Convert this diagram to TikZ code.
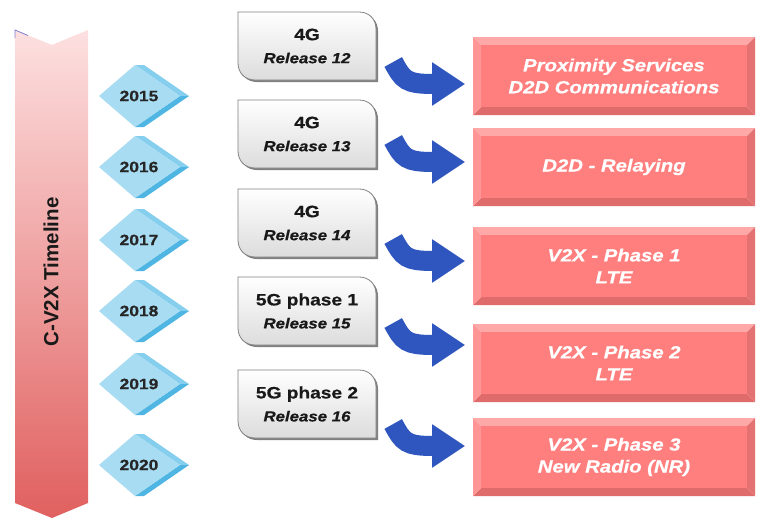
\documentclass[tikz,border=0pt]{standalone}
\usepackage{fontspec}
\setmainfont{Liberation Sans}[FakeStretch=1.16]
\newfontfamily\heavyfont{Liberation Sans}[FakeStretch=1.16, FakeBold=0.6]
\newfontfamily\tlfont{Liberation Sans}
\usetikzlibrary{arrows.meta,calc}
\definecolor{chevtop}{HTML}{FDE0E0}
\definecolor{chevbot}{HTML}{E0605F}
\definecolor{diaFace}{HTML}{A8DCF2}
\definecolor{diaTop}{HTML}{86CEEE}
\definecolor{diaBot}{HTML}{4FB5E2}
\definecolor{greyline}{HTML}{808080}
\definecolor{greybot}{HTML}{DCDCDC}
\definecolor{rface}{HTML}{FF7F7F}
\definecolor{rtop}{HTML}{FFA8A8}
\definecolor{rleft}{HTML}{FF9595}
\definecolor{rright}{HTML}{E47272}
\definecolor{rbot}{HTML}{DF6B6B}
\definecolor{arrblue}{HTML}{2F56BE}
\definecolor{edgeblue}{HTML}{7F7FD6}
\newcommand\grshape[1]{(238,#1-34) -- (359,#1-34) .. controls (369,#1-34) and (376,#1-27) .. (376,#1-17) -- (376,#1+34) -- (255,#1+34) .. controls (245,#1+34) and (238,#1+27) .. (238,#1+17) -- cycle}
\tikzset{
  yearfont/.style={font=\heavyfont\bfseries\fontsize{15}{18}\selectfont, text=black!85},
  relbox/.style={minimum width=138, minimum height=68, inner sep=0, align=center, text=black!90, font=\heavyfont\fontsize{16}{23}\selectfont},
  redbox/.style={minimum width=282, minimum height=78, inner sep=0, align=center, text=white, font=\heavyfont\bfseries\itshape\fontsize{17.5}{22}\selectfont},
  bluearrow/.style={draw=arrblue, line width=20pt, -{Triangle[length=33pt,width=41pt]}},
}
\begin{document}
\begin{tikzpicture}[x=1pt,y=-1pt]
\useasboundingbox (0,0) rectangle (771,528);
\fill[white] (0,0) rectangle (771,528);
% timeline chevron
\shade[top color=chevtop, bottom color=chevbot] (15,30) -- (52,45) -- (88,30) -- (88,503) -- (52,518) -- (15,503) -- cycle;
\draw[edgeblue, line width=0.8pt] (28,35.5) -- (15,30) -- (15,38);
\node[rotate=90, font=\tlfont\bfseries\fontsize{20.5}{24}\selectfont, text=black!90] (tl) at (51,272) {C-V2X Timeline};
% year diamonds
\foreach \yr/\c in {2015/96, 2016/167, 2017/240, 2018/311, 2019/384, 2020/465} {
  \fill[diaTop] (135,\c-31) -- (144,\c-31) -- (189,\c) -- (180,\c) -- cycle;
  \fill[diaBot] (180,\c) -- (189,\c) -- (144,\c+31) -- (135,\c+31) -- cycle;
  \fill[diaFace] (99,\c) -- (135,\c-31) -- (180,\c) -- (135,\c+31) -- cycle;
  \node[yearfont] (y\yr) at (139,\c) {\yr};
}
% release boxes
\foreach \i/\c/\t/\r in {1/46/4G/12, 2/134/4G/13, 3/223/4G/14, 4/311/5G phase 1/15, 5/404/5G phase 2/16} {
  \fill[greyline, shift={(2,2)}] \grshape{\c};
  \shade[top color=white, bottom color=greybot, draw=greyline, line width=0.8pt] \grshape{\c};
  \node[relbox] (g\i) at (307,\c) {{\bfseries\fontsize{16.5}{23}\selectfont \t}\\{\bfseries\itshape\fontsize{14.5}{20}\selectfont Release \r}};
}
% red result boxes
\foreach \i/\c/\txt in {1/76/{Proximity Services\\D2D Communications}, 2/167/{D2D - Relaying}, 3/266/{V2X - Phase 1\\LTE}, 4/363/{V2X - Phase 2\\LTE}, 5/457/{V2X - Phase 3\\New Radio (NR)}} {
  \fill[rtop] (473,\c-39) -- (755,\c-39) -- (747,\c-31) -- (481,\c-31) -- cycle;
  \fill[rbot] (473,\c+39) -- (755,\c+39) -- (747,\c+31) -- (481,\c+31) -- cycle;
  \fill[rleft] (473,\c-39) -- (481,\c-31) -- (481,\c+31) -- (473,\c+39) -- cycle;
  \fill[rright] (755,\c-39) -- (747,\c-31) -- (747,\c+31) -- (755,\c+39) -- cycle;
  \fill[rface] (481,\c-31) rectangle (747,\c+31);
  \node[redbox] (r\i) at (614,\c) {\txt};
}
% curved arrows
\foreach \i/\dy in {1/16, 2/6, 3/16, 4/12, 5/20} {
  \coordinate (s\i) at ($(g\i.east)+(17,\dy)$);
  \coordinate (e\i) at ($(g\i.east)+(89,\dy+22)$);
  \draw[bluearrow] (s\i) .. controls +(10,18) and +(-60,0) .. (e\i);
}
\end{tikzpicture}
\end{document}
